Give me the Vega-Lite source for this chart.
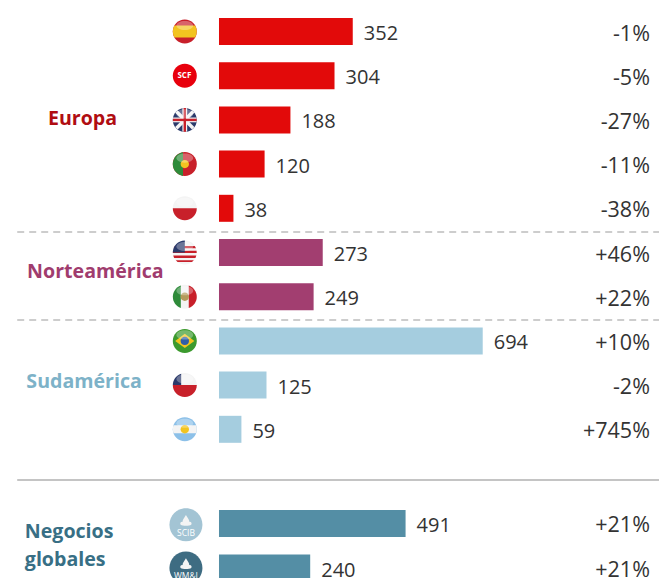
{
"$schema":"https://vega.github.io/schema/vega-lite/v6.json",
"width":659,"height":578,"padding":0,"autosize":{"type":"none"},
"background":"white",
"config":{"view":{"stroke":null},"text":{"font":"Open Sans"}},
"datasets":{
"filas":[
{"pais":"España","grupo":"Europa","valor":352,"var":"-1%","fila":0},
{"pais":"SCF","grupo":"Europa","valor":304,"var":"-5%","fila":1},
{"pais":"Reino Unido","grupo":"Europa","valor":188,"var":"-27%","fila":2},
{"pais":"Portugal","grupo":"Europa","valor":120,"var":"-11%","fila":3},
{"pais":"Polonia","grupo":"Europa","valor":38,"var":"-38%","fila":4},
{"pais":"Estados Unidos","grupo":"Norteamérica","valor":273,"var":"+46%","fila":5},
{"pais":"México","grupo":"Norteamérica","valor":249,"var":"+22%","fila":6},
{"pais":"Brasil","grupo":"Sudamérica","valor":694,"var":"+10%","fila":7},
{"pais":"Chile","grupo":"Sudamérica","valor":125,"var":"-2%","fila":8},
{"pais":"Argentina","grupo":"Sudamérica","valor":59,"var":"+745%","fila":9},
{"pais":"SCIB","grupo":"Negocios globales","valor":491,"var":"+21%","fila":11.13},
{"pais":"WM&I","grupo":"Negocios globales","valor":240,"var":"+21%","fila":12.14}
],
"partes":[
{"fila":0,"forma":"disco","tinta":"rojoBandera"},{"fila":0,"forma":"franja","tinta":"amarillo"},
{"fila":1,"forma":"disco","tinta":"rojoVivo"},
{"fila":2,"forma":"disco","tinta":"marino"},{"fila":2,"forma":"aspa1","tinta":"blanco"},{"fila":2,"forma":"aspa2","tinta":"blanco"},{"fila":2,"forma":"cruzH","tinta":"blanco"},{"fila":2,"forma":"cruzV","tinta":"blanco"},{"fila":2,"forma":"finaH","tinta":"rojoBandera"},{"fila":2,"forma":"finaV","tinta":"rojoBandera"},
{"fila":3,"forma":"disco","tinta":"rojoBandera"},{"fila":3,"forma":"izqAncha","tinta":"verde"},{"fila":3,"forma":"punto","tinta":"amarillo"},
{"fila":4,"forma":"disco","tinta":"blanco"},{"fila":4,"forma":"mitadInf","tinta":"rojoBandera"},
{"fila":5,"forma":"disco","tinta":"blanco"},{"fila":5,"forma":"raya1","tinta":"rojoBandera"},{"fila":5,"forma":"raya2","tinta":"rojoBandera"},{"fila":5,"forma":"raya3","tinta":"rojoBandera"},{"fila":5,"forma":"raya4","tinta":"rojoBandera"},{"fila":5,"forma":"cuarto","tinta":"marino"},
{"fila":6,"forma":"disco","tinta":"blanco"},{"fila":6,"forma":"izq","tinta":"verde"},{"fila":6,"forma":"der","tinta":"rojoBandera"},{"fila":6,"forma":"punto","tinta":"tostado"},
{"fila":7,"forma":"disco","tinta":"verde2"},{"fila":7,"forma":"rombo","tinta":"amarillo"},{"fila":7,"forma":"punto","tinta":"azul"},
{"fila":8,"forma":"disco","tinta":"blanco"},{"fila":8,"forma":"mitadInf","tinta":"rojoBandera"},{"fila":8,"forma":"canton","tinta":"marino"},
{"fila":9,"forma":"disco","tinta":"celeste"},{"fila":9,"forma":"franjaFina","tinta":"blanco"},{"fila":9,"forma":"punto","tinta":"amarillo"}
],
"logos":[
{"fila":11.16,"forma":"disco","tinta":"logoClaro"},{"fila":11.16,"forma":"llama","tinta":"blanco"},
{"fila":12.14,"forma":"disco","tinta":"logoOscuro"},{"fila":12.14,"forma":"llama","tinta":"blanco"}
],
"siglas":[
{"fila":1,"sigla":"SCF"}
],
"siglasLogo":[
{"fila":11.16,"sigla":"SCIB"},{"fila":12.14,"sigla":"WM&I"}
],
"regiones":[
{"texto":"Europa","tono":"tEuropa","fila":1.94,"inicio":-450},
{"texto":"Norteamérica","tono":"tNorte","fila":5.4,"inicio":-505},
{"texto":"Sudamérica","tono":"tSud","fila":7.88,"inicio":-507},
{"texto":"Negocios","tono":"tNeg","fila":11.28,"inicio":-511},
{"texto":"globales","tono":"tNeg","fila":11.91,"inicio":-511}
],
"separadores":[
{"fila":4.536,"tipo":"discontinua"},{"fila":6.527,"tipo":"discontinua"},{"fila":10.147,"tipo":"continua"}
]
},
"layer":[
{"data":{"name":"separadores"},"transform":[{"filter":"datum.tipo=='discontinua'"}],
 "mark":{"type":"rule","stroke":"#bdbdbd","strokeWidth":1.5,"strokeDash":[7,5]},
 "encoding":{"y":{"field":"fila","type":"quantitative","scale":{"domain":[-0.7127,12.364],"reverse":true,"nice":false,"zero":false,"padding":0},"axis":null},
 "x":{"datum":-531,"type":"quantitative","scale":{"domain":[-576.3,1157.9],"nice":false,"zero":false},"axis":null},"x2":{"datum":1158}}},
{"data":{"name":"separadores"},"transform":[{"filter":"datum.tipo=='continua'"}],
 "mark":{"type":"rule","stroke":"#c4c4c4","strokeWidth":2},
 "encoding":{"y":{"field":"fila","type":"quantitative"},"x":{"datum":-531,"type":"quantitative"},"x2":{"datum":1158}}},
{"data":{"name":"filas"},
 "mark":{"type":"bar","orient":"horizontal","size":27},
 "encoding":{"y":{"field":"fila","type":"quantitative"},
 "x":{"field":"valor","type":"quantitative","stack":null},
 "color":{"field":"grupo","type":"nominal","legend":null,
  "scale":{"domain":["Europa","Norteamérica","Sudamérica","Negocios globales","tEuropa","tNorte","tSud","tNeg","rojoBandera","rojoVivo","amarillo","marino","blanco","verde","verde2","azul","celeste","tostado","logoClaro","logoOscuro"],
  "range":["#E20A0A","#A23E70","#A5CDDF","#548EA5","#B00D12","#A03C6E","#7DB2C8","#386F85","#C8202A","#E8000D","#F2C420","#2B3A6B","#F4F4F4","#2E8B3A","#3C9A2E","#2F5FA8","#8CC0E8","#B49A5A","#A3C4D4","#3E6C82"]}}}},
{"data":{"name":"filas"},
 "mark":{"type":"text","align":"left","baseline":"middle","dx":11,"dy":2.5,"fontSize":20,"color":"#333333","font":"Open Sans"},
 "encoding":{"y":{"field":"fila","type":"quantitative"},"x":{"field":"valor","type":"quantitative"},"text":{"field":"valor","type":"quantitative"}}},
{"data":{"name":"filas"},
 "mark":{"type":"text","align":"right","baseline":"middle","dy":3,"fontSize":21.5,"color":"#333333","font":"Open Sans"},
 "encoding":{"y":{"field":"fila","type":"quantitative"},"x":{"datum":1134,"type":"quantitative"},"text":{"field":"var","type":"nominal"}}},
{"data":{"name":"regiones"},
 "mark":{"type":"text","align":"left","baseline":"middle","dy":2,"fontSize":19.6,"fontWeight":"bold","font":"Open Sans"},
 "encoding":{"y":{"field":"fila","type":"quantitative"},"x":{"field":"inicio","type":"quantitative"},"text":{"field":"texto","type":"nominal"},
 "color":{"field":"tono","type":"nominal","legend":null}}},
{"data":{"name":"partes"},
 "mark":{"type":"point","filled":true,"opacity":1,"size":576},
 "encoding":{"y":{"field":"fila","type":"quantitative"},"x":{"datum":-90,"type":"quantitative"},
 "color":{"field":"tinta","type":"nominal","legend":null},
 "shape":{"field":"forma","type":"nominal","legend":null,"scale":{
  "domain":["disco","franja","franjaFina","mitadInf","izq","der","izqAncha","rombo","punto","aspa1","aspa2","cruzH","cruzV","finaH","finaV","raya1","raya2","raya3","raya4","cuarto","canton","llama"],
  "range":[
  "M-1,0A1,1 0 1 1 1,0A1,1 0 1 1 -1,0Z",
  "M-.866,-.5L.866,-.5A1,1 0 0 1 .866,.5L-.866,.5A1,1 0 0 1 -.866,-.5Z",
  "M-.943,-.33L.943,-.33A1,1 0 0 1 .943,.33L-.943,.33A1,1 0 0 1 -.943,-.33Z",
  "M-1,0L1,0A1,1 0 0 1 -1,0Z",
  "M-.33,-.943L-.33,.943A1,1 0 0 1 -.33,-.943Z",
  "M.33,-.943A1,1 0 0 1 .33,.943Z",
  "M-.15,-.989L-.15,.989A1,1 0 0 1 -.15,-.989Z",
  "M-.8,0L0,-.6L.8,0L0,.6Z",
  "M-.35,0A.35,.35 0 1 1 .35,0A.35,.35 0 1 1 -.35,0Z",
  "M-.8,-.6L-.6,-.8L.8,.6L.6,.8Z",
  "M.8,-.6L.6,-.8L-.8,.6L-.6,.8Z",
  "M-.98,-.2L.98,-.2L.98,.2L-.98,.2Z",
  "M-.2,-.98L.2,-.98L.2,.98L-.2,.98Z",
  "M-.99,-.1L.99,-.1L.99,.1L-.99,.1Z",
  "M-.1,-.99L.1,-.99L.1,.99L-.1,.99Z",
  "M-.83,-.55L.83,-.55L.93,-.35L-.93,-.35Z",
  "M-.98,-.15L.98,-.15L.99,.05L-.99,.05Z",
  "M-.96,.25L.96,.25L.89,.45L-.89,.45Z",
  "M-.75,.65L.75,.65L.6,.8L-.6,.8Z",
  "M0,0L-1,0A1,1 0 0 1 0,-1Z",
  "M-.3,0L-1,0A1,1 0 0 1 -.3,-.954Z",
  "M0,-.6C.12,-.4 .22,-.3 .2,-.18C.32,-.2 .38,-.1 .32,0C.2,.08 -.2,.08 -.32,0C-.38,-.1 -.32,-.2 -.2,-.18C-.22,-.3 -.12,-.4 0,-.6Z"
  ]}}}},
{"data":{"name":"filas"},
 "transform":[{"filter":"datum.fila<10 && datum.pais!='SCF'"}],
 "mark":{"type":"point","filled":true,"opacity":0.3,"size":576,"color":"white","shape":"M-.7,-.5A.7,.38 0 1 1 .7,-.5A.7,.38 0 1 1 -.7,-.5Z"},
 "encoding":{"y":{"field":"fila","type":"quantitative"},"x":{"datum":-90,"type":"quantitative"}}},
{"data":{"name":"logos"},
 "mark":{"type":"point","filled":true,"opacity":1,"size":1089},
 "encoding":{"y":{"field":"fila","type":"quantitative"},"x":{"datum":-87,"type":"quantitative"},
 "color":{"field":"tinta","type":"nominal","legend":null},
 "shape":{"field":"forma","type":"nominal","legend":null}}},
{"data":{"name":"siglas"},
 "mark":{"type":"text","align":"center","baseline":"middle","fontSize":8,"fontWeight":"bold","color":"white","font":"Open Sans"},
 "encoding":{"y":{"field":"fila","type":"quantitative"},"x":{"datum":-91,"type":"quantitative"},"text":{"field":"sigla","type":"nominal"}}},
{"data":{"name":"siglasLogo"},
 "mark":{"type":"text","align":"center","baseline":"middle","fontSize":8.5,"dy":8,"color":"white","font":"Open Sans"},
 "encoding":{"y":{"field":"fila","type":"quantitative"},"x":{"datum":-87,"type":"quantitative"},"text":{"field":"sigla","type":"nominal"}}}
]
}
